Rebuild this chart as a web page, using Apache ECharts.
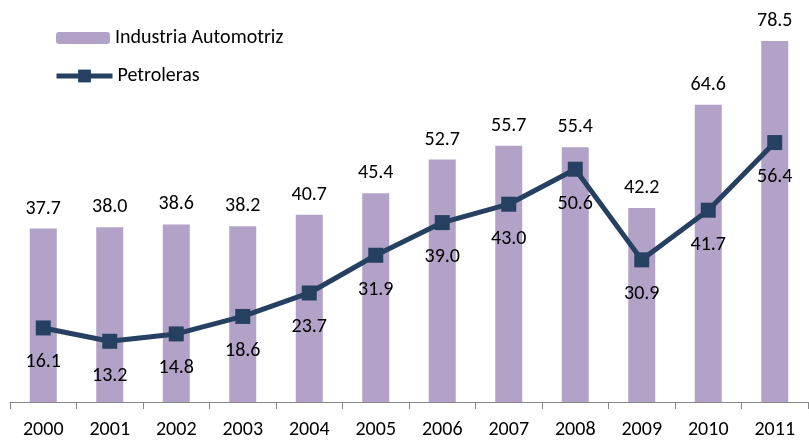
<!DOCTYPE html>
<html>
<head>
<meta charset="utf-8">
<script src="https://cdn.jsdelivr.net/npm/echarts@6/dist/echarts.min.js"></script>
<style>
    html, body { margin: 0; padding: 0; background: #fff; }
    #chart { width: 809px; height: 440px; }
</style>
</head>
<body>
<div id="chart"></div>
<script>
const years = ["2000", "2001", "2002", "2003", "2004", "2005", "2006", "2007", "2008", "2009", "2010", "2011"];
const automotriz = [37.7, 38.0, 38.6, 38.2, 40.7, 45.4, 52.7, 55.7, 55.4, 42.2, 64.6, 78.5];
const petroleras = [16.1, 13.2, 14.8, 18.6, 23.7, 31.9, 39.0, 43.0, 50.6, 30.9, 41.7, 56.4];

const font = 'Carlito, "Liberation Sans", sans-serif';

const chart = echarts.init(document.getElementById("chart"), null, { renderer: "canvas" });

chart.setOption({
    backgroundColor: "#ffffff",
    animation: false,
    textStyle: { fontFamily: font },
    grid: { left: 10, right: 1, top: 34, bottom: 37 },
    legend: [
        {
            data: ["Industria Automotriz"],
            left: 51,
            top: 23,
            itemWidth: 54,
            itemHeight: 12,
            itemGap: 6,
            textStyle: { fontSize: 20, color: "#000", fontFamily: font }
        },
        {
            data: ["Petroleras"],
            left: 49,
            top: 61,
            itemWidth: 56,
            itemHeight: 16,
            lineStyle: { width: 5 },
            textStyle: { fontSize: 20, color: "#000", fontFamily: font }
        }
    ],
    xAxis: {
        type: "category",
        data: years,
        boundaryGap: true,
        axisLine: { lineStyle: { color: "#868686", width: 1 } },
        axisTick: { show: true, interval: 0, length: 7, lineStyle: { color: "#868686" } },
        axisLabel: { fontSize: 20, color: "#000", margin: 18, fontFamily: font }
    },
    yAxis: {
        type: "value",
        min: 0,
        max: 80,
        show: false,
        splitLine: { show: false }
    },
    series: [
        {
            name: "Industria Automotriz",
            type: "bar",
            data: automotriz,
            barWidth: 27,
            itemStyle: { color: "#b3a2c7" },
            label: {
                show: true,
                position: "top",
                distance: 10,
                fontSize: 20,
                color: "#000",
                fontFamily: font,
                formatter: ({ value }) => value.toFixed(1)
            }
        },
        {
            name: "Petroleras",
            type: "line",
            data: petroleras,
            symbol: "rect",
            symbolSize: 15,
            lineStyle: { color: "#254061", width: 5 },
            itemStyle: { color: "#254061" },
            label: {
                show: true,
                position: "bottom",
                distance: 17,
                fontSize: 20,
                color: "#000",
                fontFamily: font,
                formatter: ({ value }) => value.toFixed(1)
            },
            z: 5
        }
    ]
});
</script>
</body>
</html>
